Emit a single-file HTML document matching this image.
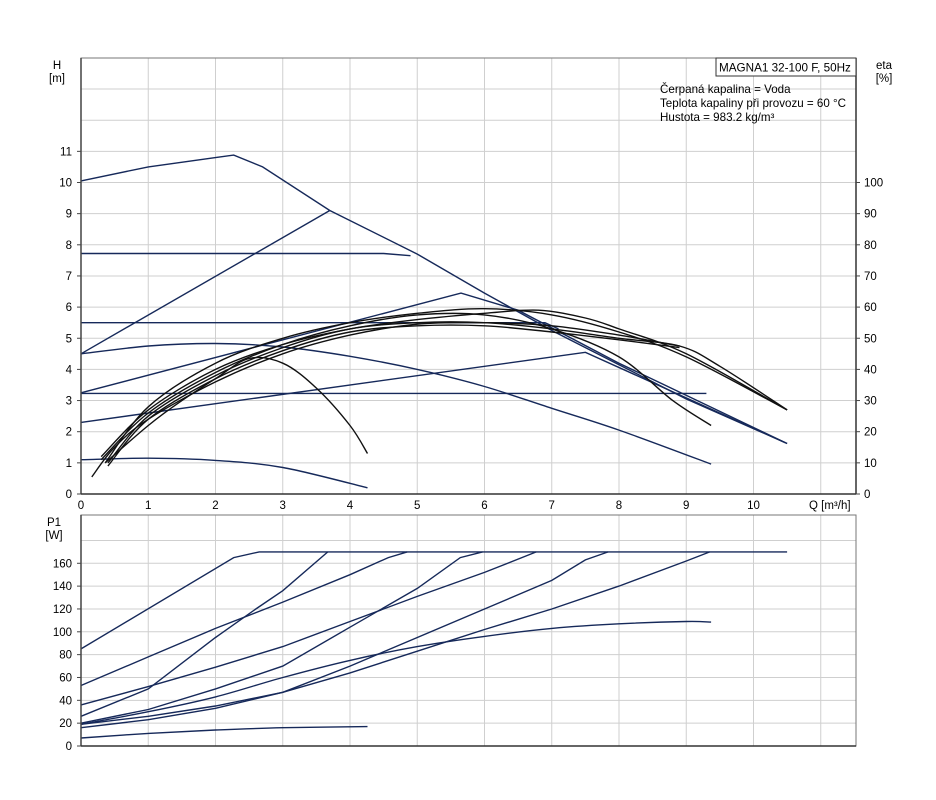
<!DOCTYPE html>
<html><head><meta charset="utf-8">
<style>
html,body{margin:0;padding:0;background:#fff;}
svg{display:block;font-family:"Liberation Sans",Arial,sans-serif;}
</style></head>
<body>
<svg id="chart" width="936" height="800" viewBox="0 0 936 800" xmlns="http://www.w3.org/2000/svg">
<g id="grid"></g>
<g id="curves"></g>
<g id="axes"></g>
<text x="57" y="69" font-size="11.5" text-anchor="middle">H</text>
<text x="57" y="82" font-size="11.5" text-anchor="middle">[m]</text>
<text x="884" y="69" font-size="11.5" text-anchor="middle">eta</text>
<text x="884" y="82" font-size="11.5" text-anchor="middle">[%]</text>
<text x="54" y="526" font-size="11.5" text-anchor="middle">P1</text>
<text x="54" y="539" font-size="11.5" text-anchor="middle">[W]</text>
<text x="809" y="509" font-size="11.5">Q [m³/h]</text>
<rect x="716" y="58" width="140" height="18" fill="#fff" stroke="#333"/>
<text x="719" y="71.5" font-size="11.7">MAGNA1 32-100 F, 50Hz</text>
<text x="660" y="93" font-size="11.6">Čerpaná kapalina = Voda</text>
<text x="660" y="107" font-size="11.6">Teplota kapaliny při provozu = 60 °C</text>
<text x="660" y="121" font-size="11.6">Hustota = 983.2 kg/m³</text>
</svg>
<script>
// Tick labels
var qTicks = [0,1,2,3,4,5,6,7,8,9,10];
var hTicks = [0,1,2,3,4,5,6,7,8,9,10,11];
var etaTicks = [0,10,20,30,40,50,60,70,80,90,100];
var pTicks = [0,20,40,60,80,100,120,140,160];

// Head curves [Q, H]
var headMax = [[0,10.05],[1,10.5],[2,10.8],[2.27,10.88],[2.7,10.5],[3.7,9.1],[5,7.7],[6,6.45],[7,5.25],[8,4.15],[9,3.05],[10.5,1.62]];
var headProp1 = [[0,4.5],[3.7,9.1]];
var headConst1 = [[0,7.72],[4.5,7.72],[4.9,7.65]];
var headConst2 = [[0,5.5],[6.9,5.5],[7.1,5.3]];
var headProp2 = [[0,3.25],[5.65,6.45],[6.5,5.9],[8,4.2],[10.5,1.62]];
var headConst3 = [[0,3.23],[9.3,3.23]];
var headProp3 = [[0,2.3],[7.5,4.55],[10.47,1.65]];
var headMid = [[0,4.5],[1,4.75],[2,4.83],[3,4.72],[4,4.42],[5,4.0],[6,3.45],[7,2.75],[8,2.05],[9.37,0.96]];
var headMin = [[0,1.1],[1,1.15],[2,1.08],[3,0.85],[4.26,0.2]];
var headSeries = [headMax,headProp1,headConst1,headConst2,headProp2,headConst3,headProp3];
var headSmooth = [headMid,headMin];

// Efficiency curves [Q, eta %]
var eta1 = [[0.36,10],[1,28],[2,42],[3,50],[4,55],[5,58],[6,59.5],[7,57.5],[8,52],[9,44],[10.5,27]];
var eta2 = [[0.3,12],[1,27],[2,40],[3,48],[4,53],[5,56],[6,58],[6.8,59],[7.5,56.5],[8,53],[9,45],[10.5,27]];
var eta3 = [[0.4,10],[1,25],[2,38],[3,47],[4,53],[5,55],[6,55],[7,53],[8,50],[8.9,47.5],[9.5,41],[10.5,27]];
var eta4 = [[0.3,11],[1,26],[2,39],[3,48],[4,54],[5,57.5],[6,57.5],[7,53],[8,44],[8.8,30],[9.37,22]];
var eta5 = [[0.4,9],[1,24],[2,37],[3,46],[4,52],[5,54],[6,54],[7,52],[8,49.5],[8.9,47]];
var eta6 = [[0.16,5.5],[0.5,15],[1,24],[2,36],[3,45],[4,51],[5,54.5],[6,55],[7,54],[8,51],[8.9,47.5]];
var eta7 = [[0.36,10],[1,22],[1.5,30],[2,37],[2.5,43.5],[3,42],[3.5,34],[4,22],[4.26,13]];
var etaSeries = [eta1,eta2,eta3,eta4,eta5,eta6,eta7];

// Power curves [Q, P1 W]
var powA = [[0,85],[2.27,165],[2.65,170],[10.5,170]];
var powB = [[0,53],[1,78],[2,103],[3,126],[4,150],[4.57,165],[4.85,170]];
var powC = [[0,26],[1,50],[2,95],[2.6,120],[3,136],[3.67,170]];
var powD = [[0,36],[1,52],[2,69],[3,87],[4,109],[5,131],[6,152],[6.77,170]];
var powE = [[0,20],[1,32],[2,50],[3,70],[4,104],[5,138],[5.64,165],[5.97,170]];
var powF = [[0,19],[1,30],[2,43],[3,60],[4,75],[5,87],[6,96],[7,103],[8,107],[9,109],[9.37,108.5]];
var powG = [[0,16],[1,23],[2,33],[3,47],[4,70],[5,95],[6,120],[7,145],[7.5,163],[7.84,170]];
var powH = [[0,19],[1,26],[2,35],[3,47],[4,64],[5,83],[6,102],[7,120],[8,140],[9,162],[9.35,170]];
var powI = [[0,7],[1,11],[2,14],[3,16],[4.26,17]];
var powSeries = [powA,powB,powC,powD,powE,powG,powH];
var powSmooth = [powF,powI];

var NS = "http://www.w3.org/2000/svg";
var X0 = 81, XR = 856, QPX = 67.25;
var TOP_T = 58, TOP_B = 494, HPX = 31.15;
var BOT_T = 515, BOT_B = 746, PPX = 1.142;
function xq(q){return X0 + q*QPX;}
function yh(h){return TOP_B - h*HPX;}
function ye(e){return TOP_B - e/10*HPX;}
function yp(p){return BOT_B - p*PPX;}

function mk(tag, attrs, parent){
  var el = document.createElementNS(NS, tag);
  for (var k in attrs) el.setAttribute(k, attrs[k]);
  parent.appendChild(el);
  return el;
}
var grid = document.getElementById('grid');
var curves = document.getElementById('curves');
var axes = document.getElementById('axes');

for (var i = 1; i <= 11; i++) {
  var gx = xq(i);
  var l1 = mk('line', {x1:gx, y1:TOP_T, x2:gx, y2:TOP_B, stroke:'#cfcfcf', 'stroke-width':1}, grid);
  
  
  var l2 = mk('line', {x1:gx, y1:BOT_T, x2:gx, y2:BOT_B, stroke:'#cfcfcf', 'stroke-width':1}, grid);
  
  
}
for (var h = 1; h <= 13; h++) {
  var l3 = mk('line', {x1:X0, y1:yh(h), x2:XR, y2:yh(h), stroke:'#cfcfcf', 'stroke-width':1}, grid);
  
  
}
for (var p = 20; p <= 180; p += 20) {
  var l4 = mk('line', {x1:X0, y1:yp(p), x2:XR, y2:yp(p), stroke:'#cfcfcf', 'stroke-width':1}, grid);
  
  
}

var f1 = mk('rect', {x:X0, y:TOP_T, width:XR-X0, height:TOP_B-TOP_T, fill:'none', stroke:'#777', 'stroke-width':1}, axes);


var f2 = mk('rect', {x:X0, y:BOT_T, width:XR-X0, height:BOT_B-BOT_T, fill:'none', stroke:'#777', 'stroke-width':1}, axes);


var a1 = mk('line', {x1:X0, y1:TOP_T, x2:X0, y2:TOP_B, stroke:'#444', 'stroke-width':1.5}, axes);


var a2 = mk('line', {x1:X0, y1:TOP_B, x2:XR, y2:TOP_B, stroke:'#333', 'stroke-width':1.5}, axes);


var a3 = mk('line', {x1:XR, y1:TOP_T, x2:XR, y2:TOP_B, stroke:'#333', 'stroke-width':1.5}, axes);


var a4 = mk('line', {x1:X0, y1:BOT_T, x2:X0, y2:BOT_B, stroke:'#444', 'stroke-width':1.5}, axes);


var a5 = mk('line', {x1:X0, y1:BOT_B, x2:XR, y2:BOT_B, stroke:'#333', 'stroke-width':1.5}, axes);



qTicks.forEach(function(q){
  var t = mk('text', {x:xq(q), y:TOP_B+15, 'font-size':11.5, 'text-anchor':'middle'}, axes);
  t.textContent = q;
  
  
});
hTicks.forEach(function(v){
  var t = mk('text', {x:72, y:yh(v)+4, 'font-size':11.5, 'text-anchor':'end'}, axes);
  t.textContent = v;
  
  
  var tk = mk('line', {x1:X0-4, y1:yh(v), x2:X0, y2:yh(v), stroke:'#444'}, axes);
  
  
});
etaTicks.forEach(function(v){
  var t = mk('text', {x:864, y:ye(v)+4, 'font-size':11.5}, axes);
  t.textContent = v;
  
  
  var tk = mk('line', {x1:XR, y1:ye(v), x2:XR+4, y2:ye(v), stroke:'#444'}, axes);
  
  
});
pTicks.forEach(function(v){
  var t = mk('text', {x:72, y:yp(v)+4, 'font-size':11.5, 'text-anchor':'end'}, axes);
  t.textContent = v;
  
  
  var tk = mk('line', {x1:X0-4, y1:yp(v), x2:X0, y2:yp(v), stroke:'#444'}, axes);
  
  
});

function pathFrom(pts, yf){
  return pts.map(function(pt,i){return (i?'L':'M')+xq(pt[0]).toFixed(1)+' '+yf(pt[1]).toFixed(1);}).join(' ');
}
function smoothFrom(pts, yf){
  var P = pts.map(function(pt){return [xq(pt[0]), yf(pt[1])];});
  var d = 'M'+P[0][0].toFixed(1)+' '+P[0][1].toFixed(1);
  for (var i = 0; i < P.length-1; i++) {
    var p0 = P[i-1] || P[i], p1 = P[i], p2 = P[i+1], p3 = P[i+2] || P[i+1];
    var c1x = p1[0] + (p2[0]-p0[0])/6, c1y = p1[1] + (p2[1]-p0[1])/6;
    var c2x = p2[0] - (p3[0]-p1[0])/6, c2y = p2[1] - (p3[1]-p1[1])/6;
    d += ' C'+c1x.toFixed(1)+' '+c1y.toFixed(1)+' '+c2x.toFixed(1)+' '+c2y.toFixed(1)+' '+p2[0].toFixed(1)+' '+p2[1].toFixed(1);
  }
  return d;
}
headSeries.forEach(function(s){
  var el = mk('path', {d:pathFrom(s, yh), fill:'none', stroke:'#16295a', 'stroke-width':1.4}, curves);
  
  
});
headSmooth.forEach(function(s){
  var el = mk('path', {d:smoothFrom(s, yh), fill:'none', stroke:'#16295a', 'stroke-width':1.4}, curves);
  
  
});
etaSeries.forEach(function(s){
  var el = mk('path', {d:smoothFrom(s, ye), fill:'none', stroke:'#111', 'stroke-width':1.4}, curves);
  
  
});
powSeries.forEach(function(s){
  var el = mk('path', {d:pathFrom(s, yp), fill:'none', stroke:'#16295a', 'stroke-width':1.4}, curves);
  
  
});
powSmooth.forEach(function(s){
  var el = mk('path', {d:smoothFrom(s, yp), fill:'none', stroke:'#16295a', 'stroke-width':1.4}, curves);
  
  
});
</script>
</body></html>
